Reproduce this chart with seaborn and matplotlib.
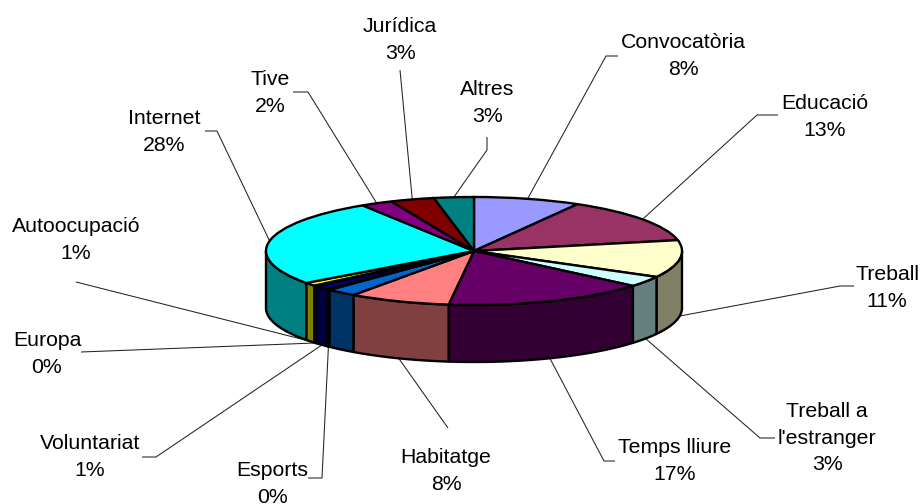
import numpy as np
import seaborn as sns
import matplotlib
matplotlib.use("Agg")
import matplotlib.pyplot as plt

# =========================
# DATA
# =========================
slice_values = [8.3, 13.5, 11.2, 3.2, 15.8, 7.9, 2.4, 0.2, 1.2, 0.3, 1.0, 26.1, 2.5, 3.4, 3.1]
slice_colors = ["#9999FF", "#993366", "#FFFFCC", "#CCFFFF", "#660066", "#FF8080", "#0066CC", "#CCCCFF",
                "#000080", "#FF00FF", "#FFFF00", "#00FFFF", "#800080", "#800000", "#008080"]
# slice index of each label (the blue slice has none in the chart)
label_slices = [0, 1, 2, 3, 4, 5, 7, 8, 9, 10, 11, 12, 13, 14]
label_names = ["Convocatòria", "Educació", "Treball", "Treball a\nl'estranger", "Temps lliure", "Habitatge",
               "Esports", "Voluntariat", "Europa", "Autoocupació", "Internet", "Tive", "Jurídica", "Altres"]
label_pcts = ["8%", "13%", "11%", "3%", "17%", "8%", "0%", "1%", "0%", "1%", "28%", "2%", "3%", "3%"]

# =========================
# LAYOUT (pixels of the 921x504 picture)
# =========================
W, H = 921, 504
CX, CY, RX, RY, DEPTH = 474, 251, 208, 54, 57
label_xy = [(683, 56), (825, 117), (887, 288), (827, 438), (675, 461), (446, 471),
            (272, 484), (90, 457), (47, 354), (76, 240), (164, 132), (270, 93), (400, 40), (487, 103)]
# elbow of each leader line, from the rim towards the label
leader_bends = [[(606, 56), (618, 56)], [(757, 115), (778, 115)], [(840, 286), (854, 286)],
                [(760, 438), (775, 438)], [(604, 461), (615, 461)], [(448, 428)],
                [(322, 478), (308, 478)], [(156, 457), (142, 457)], [(81, 352)], [(76, 282)],
                [(217, 131), (205, 131)], [(308, 92), (293, 92)], [(400, 70)], [(487, 150), (487, 137)]]


def px(x, y):
    return (x - CX) / RX, (CY - y) / RY


# =========================
# PLOT
# =========================
sns.set_theme(style="white")
plt.rcParams["font.family"] = ["Liberation Sans", "DejaVu Sans"]
palette = sns.color_palette(slice_colors)

fig = plt.figure(figsize=(W / 100, H / 100), dpi=100, facecolor="white")
ax = fig.add_axes([0, 0, 1, 1])

# angles clockwise from the top, in radians
shares = np.array(slice_values) / np.sum(slice_values)
edges = np.concatenate([[0], np.cumsum(shares)]) * 2 * np.pi
depth = DEPTH / RY

# side walls, only the front half of the disc shows
for i, color in enumerate(palette):
    a0 = max(edges[i], np.pi / 2)
    a1 = min(edges[i + 1], 3 * np.pi / 2)
    if a1 <= a0:
        continue
    t = np.linspace(a0, a1, 60)
    xs = np.concatenate([np.sin(t), np.sin(t[::-1])])
    ys = np.concatenate([np.cos(t), np.cos(t[::-1]) - depth])
    ax.fill(xs, ys, facecolor=np.array(color) * 0.5, edgecolor="black", linewidth=1.7, joinstyle="round", zorder=1)

# top of the disc: a pie squashed by letting the aspect go free
ax.pie(slice_values, colors=palette, startangle=90, counterclock=False, radius=1,
       wedgeprops={"edgecolor": "black", "linewidth": 1.7, "zorder": 2})
ax.set_aspect("auto")
ax.set_xlim(-CX / RX, (W - CX) / RX)
ax.set_ylim((CY - H) / RY, CY / RY)
ax.axis("off")

# labels and leader lines
for k, name in enumerate(label_names):
    i = label_slices[k]
    mid = (edges[i] + edges[i + 1]) / 2
    ax_x, ax_y = np.sin(mid), np.cos(mid)
    if ax_y < 0:
        ax_y -= depth
    bend = [px(*p) for p in leader_bends[k]]
    ax.plot([ax_x] + [b[0] for b in bend], [ax_y] + [b[1] for b in bend],
            color="#222222", linewidth=0.75, zorder=0, solid_capstyle="butt")
    tx, ty = px(*label_xy[k])
    ax.text(tx, ty, name + "\n" + label_pcts[k], ha="center", va="center", fontsize=15.3,
            color="black", linespacing=1.48, multialignment="center")

fig.savefig("out.png", dpi=100, facecolor="white")
